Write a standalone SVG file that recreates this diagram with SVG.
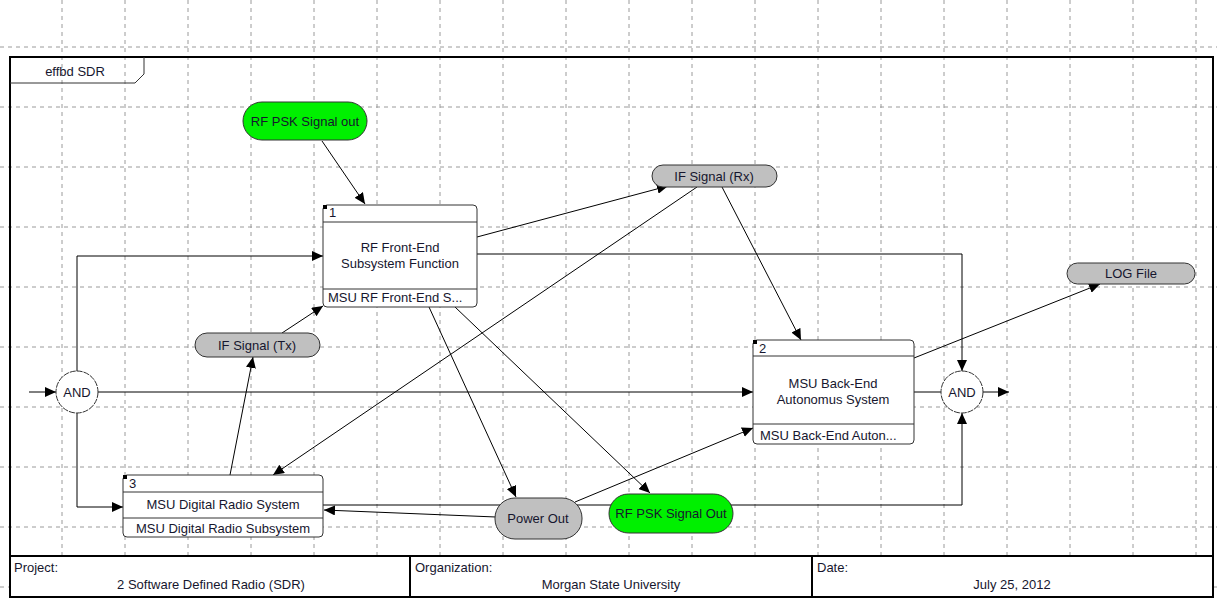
<svg xmlns="http://www.w3.org/2000/svg" width="1217" height="598" viewBox="0 0 1217 598">
  <style>
    .grid { stroke: #9a9a9a; stroke-width: 1; stroke-dasharray: 4 4; fill: none; }
    .txt { font-family: "Liberation Sans", Arial, sans-serif; font-size: 13px; fill: #16162e; }
    .mid { text-anchor: middle; }
    .box { fill: #fff; stroke: #333; stroke-width: 1; }
    .sep { stroke: #333; stroke-width: 1; }
    .item { fill: #c0c0c0; stroke: #333; stroke-width: 1; }
    .trig { fill: #00f000; stroke: #333; stroke-width: 1; }
    .and { fill: #fff; stroke: #333; stroke-width: 1; stroke-dasharray: 6 1; }
    .conn { stroke: #000; stroke-width: 1; fill: none; }
    .arr { marker-end: url(#ah); }
  </style>
  <defs>
    <marker id="ah" markerWidth="12" markerHeight="10" refX="11" refY="5" orient="auto" markerUnits="userSpaceOnUse">
      <path d="M0,0 L11,5 L0,10 Z" fill="#000"/>
    </marker>
  </defs>

  <rect x="0" y="0" width="1217" height="598" fill="#fff"/>

  <!-- background grid -->
  <g id="grid">
    <path class="grid" d="M62,0 V556 M125,0 V556 M188,0 V556 M251,0 V556 M314,0 V556 M377,0 V556 M440,0 V556 M503,0 V556 M566,0 V556 M629,0 V556 M692,0 V556 M755,0 V556 M818,0 V556 M881,0 V556 M944,0 V556 M1007,0 V556 M1070,0 V556 M1133,0 V556 M1196,0 V556"/>
    <path class="grid" d="M0,47 H1217 M0,107 H1217 M0,167 H1217 M0,227 H1217 M0,287 H1217 M0,347 H1217 M0,407 H1217 M0,467 H1217 M0,527 H1217 M0,587 H10 M1213,587 H1217"/>
  </g>

  <!-- diagram frame with name tab -->
  <g id="frame">
    <rect x="10" y="57" width="1203" height="540" fill="none" stroke="#000" stroke-width="2"/>
    <path d="M10,83 H135 L144,74 V57" fill="none" stroke="#333" stroke-width="1"/>
    <text class="txt mid" x="75" y="76">effbd SDR</text>
  </g>

  <!-- connectors -->
  <g id="connectors">
    <path class="conn" d="M29,392 H56" marker-end="url(#ah)"/>
    <path class="conn arr" d="M322,141 L365,204"/>
    <path class="conn arr" d="M477,237 L668,186"/>
    <path class="conn arr" d="M722,187 L801,340"/>
    <path class="conn arr" d="M697,187 L273,475"/>
    <path class="conn arr" d="M477,254 H962 V371"/>
    <path class="conn arr" d="M429,307 L516,497"/>
    <path class="conn arr" d="M455,307 L650,493"/>
    <path class="conn arr" d="M282,333 L323,306"/>
    <path class="conn arr" d="M230,475 L253,357"/>
    <path class="conn arr" d="M77,371 V256 H323"/>
    <path class="conn arr" d="M77,413 V507 H123"/>
    <path class="conn arr" d="M98,392 H753"/>
    <path class="conn" d="M914,392 H941"/>
    <path class="conn arr" d="M983,392 H1009"/>
    <path class="conn arr" d="M914,358 L1100,284"/>
    <path class="conn arr" d="M575,502 L753,428"/>
    <path class="conn arr" d="M496,517 L324,510"/>
    <path class="conn arr" d="M323,505 H962 V413"/>
  </g>

  <!-- functions -->
  <g id="fn1">
    <rect class="box" x="323" y="205" width="154" height="102" rx="4"/>
    <rect x="323" y="205" width="4" height="4" fill="#000"/>
    <line class="sep" x1="323" y1="222" x2="477" y2="222"/>
    <line class="sep" x1="323" y1="289" x2="477" y2="289"/>
    <text class="txt" x="329" y="217">1</text>
    <text class="txt mid" x="400" y="252">RF Front-End</text>
    <text class="txt mid" x="400" y="268">Subsystem Function</text>
    <text class="txt" x="328" y="302">MSU RF Front-End S...</text>
  </g>

  <g id="fn2">
    <rect class="box" x="753" y="340" width="161" height="104" rx="4"/>
    <rect x="753" y="340" width="4" height="4" fill="#000"/>
    <line class="sep" x1="753" y1="356" x2="914" y2="356"/>
    <line class="sep" x1="753" y1="424" x2="914" y2="424"/>
    <text class="txt" x="759" y="353">2</text>
    <text class="txt mid" x="833" y="388">MSU Back-End</text>
    <text class="txt mid" x="833" y="404">Autonomus System</text>
    <text class="txt" x="760" y="440">MSU Back-End Auton...</text>
  </g>

  <g id="fn3">
    <rect class="box" x="123" y="475" width="200" height="62" rx="4"/>
    <rect x="123" y="475" width="4" height="4" fill="#000"/>
    <line class="sep" x1="123" y1="492" x2="323" y2="492"/>
    <line class="sep" x1="123" y1="518" x2="323" y2="518"/>
    <text class="txt" x="129" y="488">3</text>
    <text class="txt mid" x="223" y="509">MSU Digital Radio System</text>
    <text class="txt mid" x="223" y="533">MSU Digital Radio Subsystem</text>
  </g>

  <!-- logic nodes -->
  <g id="and1">
    <circle class="and" cx="77" cy="392" r="21"/>
    <text class="txt mid" x="77" y="397">AND</text>
  </g>
  <g id="and2">
    <circle class="and" cx="962" cy="392" r="21"/>
    <text class="txt mid" x="962" y="397">AND</text>
  </g>

  <!-- items and triggers -->
  <g id="rfpsk-in">
    <rect class="trig" x="243" y="102" width="124" height="38" rx="19"/>
    <text class="txt mid" x="305" y="126" fill="#000">RF PSK Signal out</text>
  </g>
  <g id="if-rx">
    <rect class="item" x="652" y="165" width="125" height="22" rx="11"/>
    <text class="txt mid" x="714" y="181">IF Signal (Rx)</text>
  </g>
  <g id="log-file">
    <rect class="item" x="1067" y="263" width="128" height="21" rx="10.5"/>
    <text class="txt mid" x="1131" y="278">LOG File</text>
  </g>
  <g id="if-tx">
    <rect class="item" x="195" y="333" width="125" height="24" rx="12"/>
    <text class="txt mid" x="257" y="350">IF Signal (Tx)</text>
  </g>
  <g id="power-out">
    <rect class="item" x="495" y="498" width="87" height="41" rx="20"/>
    <text class="txt mid" x="538" y="523">Power Out</text>
  </g>
  <g id="rfpsk-out">
    <rect class="trig" x="609" y="494" width="124" height="39" rx="19.5"/>
    <text class="txt mid" x="671" y="518" fill="#000">RF PSK Signal Out</text>
  </g>

  <!-- title block -->
  <g id="title-block">
    <rect x="10" y="556" width="1203" height="41" fill="#fff" stroke="#000" stroke-width="2"/>
    <line x1="410" y1="556" x2="410" y2="597" stroke="#000" stroke-width="2"/>
    <line x1="812" y1="556" x2="812" y2="597" stroke="#000" stroke-width="2"/>
    <text class="txt" x="14" y="572">Project:</text>
    <text class="txt mid" x="211" y="589">2 Software Defined Radio (SDR)</text>
    <text class="txt" x="415" y="572">Organization:</text>
    <text class="txt mid" x="611" y="589">Morgan State University</text>
    <text class="txt" x="817" y="572">Date:</text>
    <text class="txt mid" x="1012" y="589">July 25, 2012</text>
  </g>
</svg>
